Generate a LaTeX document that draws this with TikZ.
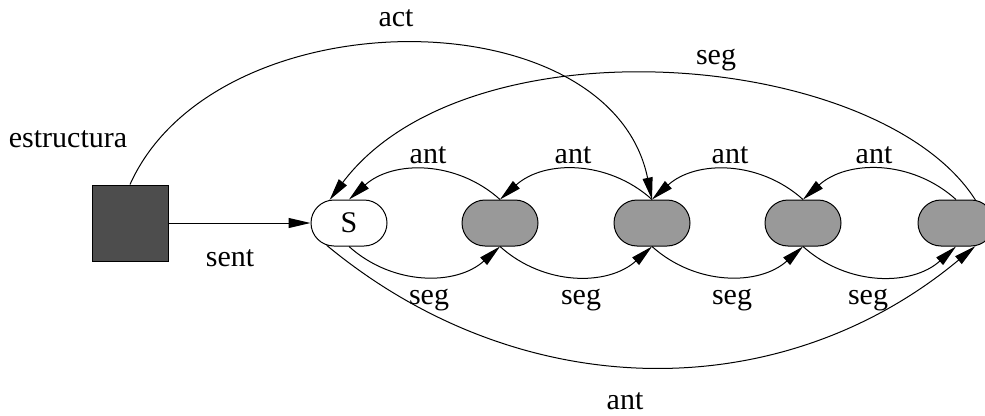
\documentclass[tikz,border=0pt]{standalone}
\usepackage{fontspec}
\setmainfont{Liberation Serif}
\usetikzlibrary{arrows.meta,shapes.misc}
\definecolor{boxgray}{HTML}{4D4D4D}
\definecolor{nodegray}{HTML}{999999}
\tikzset{
    elem/.style={rounded rectangle,draw,line width=1pt,minimum width=76pt,minimum height=46pt,inner sep=0pt},
    conn/.style={line width=1pt,-{Triangle[length=22pt,width=10pt]}},
    lbl/.style={inner sep=0pt}
}
\begin{document}
\begin{tikzpicture}[x=1pt,y=-1pt]
                    \fontsize{30}{36}\selectfont
                    \useasboundingbox (0,0) rectangle (985,415);
                    \node [draw,fill=boxgray,line width=1pt,minimum size=76pt,inner sep=0pt] (estr) at (130,223) {};
                    \node [elem,fill=white] (s) at (349,223) {S};
                    \foreach \i/\x in {1/500,2/652,3/803,4/956}
                        \node [elem,fill=nodegray] (e\i) at (\x,223) {};

                    \draw [conn] (estr.east) -- (s.west);
                    \draw [conn] (estr.north) .. controls (215,-5) and (610,-5) .. (e2.north);
                    \draw [conn] (e4.50) .. controls (880,50) and (468,16) .. (s.130);
                    \draw [conn] (s.-135) .. controls (522,407) and (782,407) .. (e4.-50);
                    \draw [conn] (e1.north) to[bend right=42] (s.north);
                    \draw [conn] (s.south) to[bend right=42] (e1.south);
                    \foreach \a/\b in {1/2,2/3,3/4} {
                        \draw [conn] (e\b.north) to[bend right=42] (e\a.north);
                        \draw [conn] (e\a.south) to[bend right=42] (e\b.south);
                    }

                    \node [lbl] (lestr) at (68,139) {estructura};
                    \node [lbl] (lsent) at (230,258) {sent};
                    \node [lbl] (lact) at (396,18) {act};
                    \node [lbl] (lsegtop) at (716,60) {seg};
                    \node [lbl] (lantbot) at (625,401) {ant};
                    \foreach \i/\xa/\xs in {1/428/429,2/573/581,3/730/732,4/874/868} {
                        \node [lbl] (lant\i) at (\xa,155) {ant};
                        \node [lbl] (lseg\i) at (\xs,300) {seg};
                    }
                \end{tikzpicture}
\end{document}
